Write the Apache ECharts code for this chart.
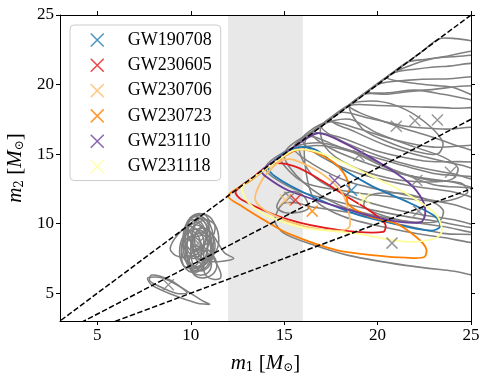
<!DOCTYPE html>
<html><head><meta charset="utf-8">
<script src="https://cdn.jsdelivr.net/npm/echarts@6/dist/echarts.min.js"></script>
<style>html,body{margin:0;padding:0;background:#fff}#c{width:489px;height:381px}</style>
</head><body><div id="c"></div>
<script>
// ---- data ----
const xTicks = [5, 10, 15, 20, 25];
const yTicks = [5, 10, 15, 20, 25];
const bandRange = [12, 16];
const qRatios = [1.0, 0.7, 0.5];
const eventNames = ['GW190708', 'GW230605', 'GW230706', 'GW230723', 'GW231110', 'GW231118'];
const eventMarkers = [[18.6, 12.4], [15.6, 11.7], [15.05, 11.7], [16.5, 10.9], [17.7, 13.1], [19.3, 11.8]];

const GW190708 = [[15.05,15.1],[15.86,15.5],[16.7,15.3],[17.9,14.1],[19.7,12.7],[21.7,11.5],[23.1,10.5],[23.35,9.8],[22.9,9.5],[21.5,9.8],[18.8,10.7],[16.1,12.2],[14.5,13.4],[14.16,14.05]];
const GW230605 = [[12.4,12.3],[12.75,11.7],[15.2,10.3],[17.9,9.55],[20.3,9.4],[20.4,10.0],[19.5,11.0],[18.4,11.9],[17.0,13.1],[15.6,14.1],[14.34,14.3],[13.4,13.4]];
const GW230706 = [[15.0,14.6],[15.6,14.55],[17.0,13.6],[18.1,12.2],[18.5,10.5],[18.45,9.7],[17.7,9.5],[16.1,9.8],[14.3,10.7],[13.45,11.7],[13.8,13.1],[14.5,14.2]];
const GW230723 = [[12.0,12.0],[12.8,11.2],[14.0,10.2],[15.2,9.3],[17.8,8.1],[20.0,7.7],[21.5,7.55],[22.5,7.6],[22.6,8.2],[22.1,9.0],[21.0,10.0],[19.6,10.5],[18.5,11.3],[18.35,11.95],[18.5,12.5],[18.2,13.6],[17.6,14.45],[16.6,15.15],[15.7,15.3],[14.5,14.4],[13.2,13.1]];
const GW231110 = [[16.8,16.5],[17.9,16.0],[20.2,14.3],[21.7,12.9],[22.4,11.7],[22.55,10.7],[22.3,10.1],[20.6,10.25],[17.9,11.2],[15.2,12.4],[14.0,13.4],[13.8,13.8],[14.9,14.9],[15.95,15.9]];
const GW231118 = [[15.6,15.3],[17.0,15.05],[19.7,13.4],[21.5,12.2],[23.1,10.7],[23.45,9.5],[23.1,8.95],[21.5,8.7],[18.8,9.3],[16.1,9.7],[14.2,10.5],[13.1,11.5],[12.75,12.6],[13.45,13.4],[14.5,14.4]];

const grayContours = [
  [[19.5,19.5],[21,21],[22.5,22.5],[23.3,23.3],[24.2,23.3],[25.2,23.1],[26,22.9],[26,18.6],[25,18.9],[23.5,19.3],[22,19.6],[20.5,19.4]],
  [[18.5,18.5],[20,20],[21.6,21.6],[22.5,21.8],[24,22],[26,21.8],[26,15.2],[24.5,15.5],[23,16.2],[21.5,16.8],[20,17.5],[19,18.0]],
  [[17.5,17.5],[19,19],[20.8,20.8],[22,21.1],[23.5,21.3],[26,21.2],[26,13.9],[24.5,14.2],[22.5,14.8],[20.5,15.6],[18.8,16.6]],
  [[17,17],[18.5,18.5],[20,20],[21.5,20.3],[23.5,20.4],[26,20.2],[26,13.2],[24,13.6],[22,14.1],[20,14.9],[18,16.0]],
  [[16.5,16.5],[18,18],[19.3,19.3],[20.5,19.3],[22.5,19.6],[26,19.5],[26,12.6],[24,13.0],[21.5,13.5],[19.5,14.3],[17.5,15.4]],
  [[16,16],[17.5,17.5],[18.5,18.5],[20,18.5],[22,18.4],[24,18.3],[26,18.0],[26,11.9],[24,12.3],[21.5,12.8],[19,13.6],[17,14.8]],
  [[15.5,15.5],[17,17],[18,18],[19.5,17.6],[21.5,17.0],[23.5,16.8],[26,16.6],[26,10.9],[24,11.4],[21,12.2],[18.5,13.0],[16.5,14.3]],
  [[15.8,15.8],[17.3,17.3],[19,16.8],[21,16.0],[23,15.5],[26,15.3],[26,10.0],[24,10.3],[21,11.0],[18.5,12.0],[16.5,13.5]],
  [[15,15],[16.5,16.5],[18,16.2],[20,15.2],[22.5,14.5],[26,14.0],[26,9.5],[23.5,9.8],[20.5,10.4],[18,11.3],[16,13.0]],
  [[16.2,16.2],[18,15.5],[20.5,14.5],[23,13.6],[26,12.9],[26,8.8],[23.5,9.0],[20.5,9.7],[18,10.6],[16.5,12.0]],
  [[14.9,11.4],[15.6,11.5],[16.5,11.2],[18.5,10.8],[21,10.0],[23.5,9.3],[26,8.9],[26,6.3],[24,6.6],[21.5,7.0],[18.5,7.7],[16.5,8.5],[15.0,9.3],[14.5,10.2]],
  [[17,17],[18.5,17.5],[20,16.5],[22,15.5],[23.5,14.8],[24.3,14.0],[24.0,13.2],[22.5,13.0],[20.5,13.3],[18.5,14.2],[17.2,15.5]],
  [[18.5,18.5],[20,18.8],[21.5,18.2],[22.8,17.0],[23.5,15.8],[23.2,15.0],[22,15.2],[20.5,15.9],[19.2,16.8]],
  [[19.5,12.0],[21,12.2],[22.5,11.8],[23.5,11.0],[23.3,10.2],[22,10.1],[20.5,10.5],[19.3,11.2]],
  [[14.0,14.0],[15.5,15.5],[17,15.8],[19,15.0],[21,13.8],[23,12.8],[26,12.2],[26,9.8],[23,10.2],[20,10.9],[17.5,11.7],[15.5,12.5]],
  [[14.8,14.8],[16.5,15.6],[18.5,15.2],[20.5,14.0],[22.5,13.2],[24.5,12.9],[24.8,12.2],[23.5,11.6],[21,11.9],[18.5,12.3],[16,13.0]],
  [[14.6,11.2],[15.0,12.1],[15.6,12.3],[16.1,11.9],[16.3,11.1],[15.7,10.8],[15.0,10.8]],
  [[20.5,20.5],[22,21.5],[23.5,22.0],[26,22.3],[26,19.0],[24,19.8],[22.5,20.0]],
  // low-mass cluster
  [[11.1,8.6],[10.9,9.8],[10.4,10.4],[9.9,9.8],[9.7,8.6],[9.9,7.3],[10.4,6.8],[10.9,7.3]],
  [[10.9,8.6],[10.7,9.6],[10.3,10.1],[9.8,9.6],[9.6,8.3],[9.8,7.2],[10.2,6.8],[10.7,7.3]],
  [[11.2,9.0],[11.0,10.0],[10.6,10.4],[10.2,10.0],[10.1,8.7],[10.3,7.6],[10.7,7.3],[11.1,7.8]],
  [[11.1,8.3],[10.9,9.2],[10.3,9.6],[9.7,9.2],[9.5,8.1],[9.8,7.2],[10.3,6.9],[10.9,7.2]],
  [[11.0,9.5],[10.8,10.3],[10.3,10.6],[9.8,10.1],[9.7,9.0],[9.9,7.9],[10.4,7.6],[10.9,8.3]],
  [[11.1,7.8],[10.9,8.9],[10.4,9.3],[9.9,8.9],[9.7,7.8],[9.9,6.9],[10.4,6.6],[10.9,7.0]],
  [[10.7,8.8],[10.4,9.5],[9.9,9.8],[9.3,9.2],[8.9,8.2],[9.2,7.7],[9.9,7.6],[10.5,8.0]],
  [[12.3,7.5],[11.8,7.9],[11.1,9.3],[10.5,9.7],[10.2,9.0],[10.4,7.8],[11.0,7.3],[11.7,7.3]],
  [[11.3,9.8],[11.0,10.5],[10.5,10.7],[10.0,10.4],[9.8,9.4],[10.1,8.5],[10.6,8.4],[11.1,8.9]],
  [[11.4,7.0],[11.1,7.9],[10.6,8.3],[10.1,8.0],[9.9,7.1],[10.2,6.3],[10.7,6.1],[11.2,6.4]],
  [[10.9,8.2],[10.8,9.5],[10.3,9.9],[9.9,9.4],[9.8,8.1],[9.9,6.9],[10.3,6.5],[10.7,7.0]],
  [[11.5,8.8],[11.3,9.9],[10.8,10.3],[10.2,9.8],[10.0,8.6],[10.3,7.6],[10.8,7.4],[11.3,7.9]],
  [[10.6,8.0],[10.4,9.1],[10.0,9.5],[9.6,9.1],[9.4,8.0],[9.6,7.0],[10.0,6.8],[10.4,7.2]],
  [[10.8,9.0],[10.6,10.0],[10.1,10.3],[9.7,9.8],[9.6,8.8],[9.8,7.8],[10.2,7.5],[10.6,8.0]],
  [[11.2,8.0],[11.0,9.0],[10.6,9.4],[10.1,9.0],[10.0,7.8],[10.2,6.9],[10.6,6.6],[11.0,7.0]],
  [[10.9,9.3],[10.7,10.2],[10.2,10.5],[9.8,10.0],[9.7,9.0],[9.9,8.2],[10.3,8.0],[10.7,8.5]],
  [[11.3,8.4],[11.1,9.3],[10.7,9.7],[10.3,9.4],[10.1,8.4],[10.3,7.4],[10.7,7.1],[11.1,7.6]],
  [[10.7,7.6],[10.5,8.7],[10.0,9.1],[9.6,8.6],[9.5,7.6],[9.7,6.8],[10.1,6.5],[10.5,6.9]],
  [[11.0,10.0],[10.8,10.6],[10.3,10.7],[9.9,10.3],[9.9,9.5],[10.2,9.1],[10.6,9.2]],
  [[11.1,7.2],[10.9,7.9],[10.5,8.2],[10.0,7.8],[9.9,7.1],[10.1,6.5],[10.6,6.3],[11.0,6.6]],
  [[11.0,7.8],[10.7,7.0],[10.8,6.3],[11.2,6.0],[11.6,6.1],[11.5,6.8]],
  // lowest event
  [[7.7,6.1],[8.5,6.1],[9.5,5.4],[10.7,4.4],[11.0,4.2],[10.3,4.3],[9.0,4.9],[7.9,5.6]],
  [[7.9,6.3],[8.8,6.0],[9.6,5.3],[9.8,5.0],[9.2,5.0],[8.3,5.5],[7.8,5.9]]
];
const grayMarkers = [[20.77,8.6],[22.1,13.1],[22.2,10.9],[21.0,17.0],[22.0,17.4],[23.2,17.45],[19.0,14.9],[15.3,11.9],[23.9,13.7],[8.8,5.6],[10.4,8.6]];

// ---- styles ----
const eventColors = ['#1f78b4', '#e31a1c', '#fdbf6f', '#ff7f00', '#6a3d9a', '#ffff99'];
const eventContours = [GW190708, GW230605, GW230706, GW230723, GW231110, GW231118];
const FONT = 'Liberation Serif';
const X_PATH = 'path://M0,0L10,10M0,10L10,0';

function contourSeries(contours, color, width, z) {
  return {
    type: 'custom', coordinateSystem: 'cartesian2d', clip: true, silent: true, z: z,
    dimensions: ['x', 'y', 'idx'],
    encode: { x: 0, y: 1 },
    data: contours.map((c, i) => [c[0][0], c[0][1], i]),
    renderItem: function (params, api) {
      const pts = contours[api.value(2)].map(p => api.coord(p));
      return { type: 'polygon', shape: { points: pts, smooth: 0.3 },
        style: { fill: 'none', stroke: color, lineWidth: width } };
    }
  };
}

const series = [];
qRatios.forEach((q, i) => {
  const s = {
    type: 'line', data: [[0, 0], [30, 30 * q]], showSymbol: false, silent: true, z: 6, clip: true,
    lineStyle: { color: '#000', width: 1.5, type: [5.5, 2.4] }
  };
  if (i === 0) {
    s.markArea = { silent: true, z: 0, itemStyle: { color: '#e8e8e8' },
      data: [[{ xAxis: bandRange[0] }, { xAxis: bandRange[1] }]] };
  }
  series.push(s);
});
series.push(contourSeries(grayContours, '#808080', 1.55, 3));
eventContours.forEach((c, i) => series.push(contourSeries([c], eventColors[i], 1.8, 4)));
series.push({ type: 'scatter', data: grayMarkers, symbol: X_PATH, symbolSize: 11, silent: true, z: 5,
  itemStyle: { color: '#808080', borderColor: '#808080', borderWidth: 1.5 } });
eventNames.forEach((n, i) => series.push({
  type: 'scatter', name: n, data: [eventMarkers[i]], symbol: X_PATH, symbolSize: 11, z: 5, silent: true,
  itemStyle: { color: eventColors[i], borderColor: eventColors[i], borderWidth: 1.5 }
}));

const richName = {
  i: { fontFamily: FONT, fontStyle: 'italic', fontSize: 21, color: '#000' },
  r: { fontFamily: FONT, fontSize: 21, color: '#000' },
  s: { fontFamily: 'DejaVu Serif', fontSize: 12, color: '#000', padding: [10, 0, 0, 0] }
};
const axisCommon = {
  type: 'value', min: 3, max: 25, splitLine: { show: false },
  axisLine: { show: true, onZero: false, lineStyle: { color: '#000', width: 1 } },
  axisTick: { show: true, inside: false, length: 4, lineStyle: { color: '#000', width: 1 } },
};

const option = {
  animation: false,
  backgroundColor: '#fff',
  grid: { left: 60, right: 18, top: 15, bottom: 60, containLabel: false, outerBoundsMode: 'none' },
  xAxis: [
    Object.assign({}, axisCommon, { position: 'bottom',
      axisTick: Object.assign({}, axisCommon.axisTick, { customValues: xTicks }),
      axisLabel: { customValues: xTicks, fontFamily: FONT, fontSize: 17, color: '#000', margin: 6 },
      name: '{i|m}{s|1}{r| [}{i|M}{s|⊙}{r|]}', nameLocation: 'middle', nameGap: 31,
      nameTextStyle: { rich: richName } }),
    Object.assign({}, axisCommon, { position: 'top',
      axisTick: Object.assign({}, axisCommon.axisTick, { customValues: xTicks }),
      axisLabel: { show: false } })
  ],
  yAxis: [
    Object.assign({}, axisCommon, { position: 'left',
      axisTick: Object.assign({}, axisCommon.axisTick, { customValues: yTicks }),
      axisLabel: { customValues: yTicks, fontFamily: FONT, fontSize: 17, color: '#000', margin: 6 },
      name: '{i|m}{s|2}{r| [}{i|M}{s|⊙}{r|]}', nameLocation: 'middle', nameGap: 33, nameRotate: 90,
      nameTextStyle: { rich: richName } }),
    Object.assign({}, axisCommon, { position: 'right',
      axisTick: Object.assign({}, axisCommon.axisTick, { customValues: yTicks }),
      axisLabel: { show: false } })
  ],
  legend: {
    data: eventNames, orient: 'vertical', left: 70, top: 25,
    itemWidth: 13, itemHeight: 13, itemGap: 7.3,
    padding: [6, 9, 5, 20],
    borderColor: '#cccccc', borderWidth: 1, borderRadius: 4, backgroundColor: 'rgba(255,255,255,0.85)',
    textStyle: { fontFamily: FONT, fontSize: 18, color: '#000', lineHeight: 18, padding: [0, 0, 0, 19] },
    itemStyle: { borderWidth: 1.5 },
    symbolKeepAspect: true
  },
  series: series
};
const chart = echarts.init(document.getElementById('c'), null, { renderer: 'canvas' });
chart.setOption(option);
</script>
</body></html>
